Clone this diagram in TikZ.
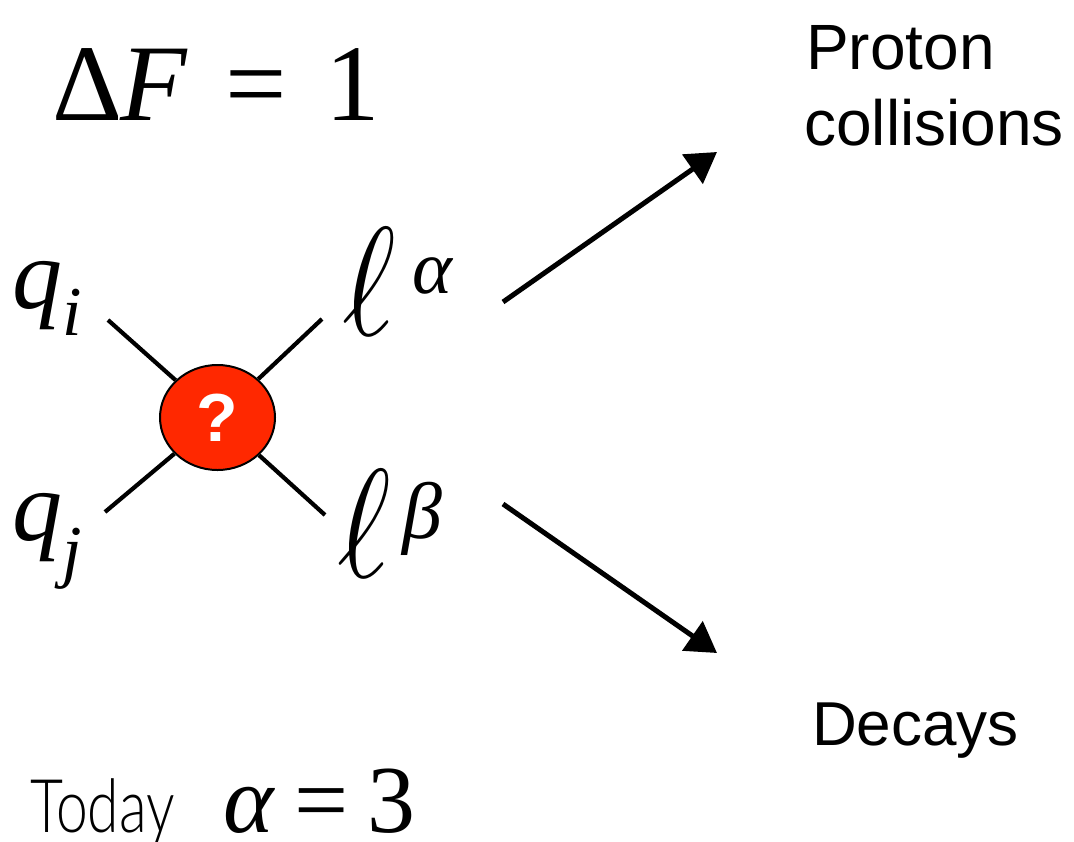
\RequirePackage{fix-cm}
\documentclass[tikz,border=0pt]{standalone}
\usepackage{fontspec}
\setmainfont{Liberation Serif}
\newfontfamily\hel{Liberation Sans}
\newfontfamily\gill{Lato Light}
\usetikzlibrary{arrows.meta,shapes.geometric}
\definecolor{vred}{RGB}{255,40,0}
\tikzset{
  leg/.style={line width=4.2pt},
  arr/.style={line width=5pt,-{Triangle[length=30pt,width=35pt]}},
  lbl/.style={inner sep=0pt,anchor=base west},
}
\newcommand{\fs}[1]{\fontsize{#1}{#1}\selectfont}
\newcommand{\bigell}{\scalebox{1.3}[1.55]{$\ell$}}
\begin{document}
\begin{tikzpicture}[x=1pt,y=-1pt]
\useasboundingbox (0,0) rectangle (1074,841);
\node[lbl,font=\fs{109}] (df) at (52,120) {Δ\kern-0.02em\textit{F}\kern0.35em=\kern0.35em1};
\node[lbl,font=\hel\fs{64}] (p1) at (806,69) {Proton};
\node[lbl,font=\hel\fs{64}] (p2) at (804,145) {collisions};
\node[lbl,font=\hel\fs{62}] (dec) at (812,745) {Decays};
\node[lbl,font=\gill\fs{74}] (today) at (30,832) {\scalebox{0.77}[1]{Today}};
\node[lbl,font=\fs{96}] (al) at (223,832) {\textit{α}\kern0.2em=\kern0.2em3};
\node[lbl,font=\fs{100}] (qi) at (12,308) {\textit{q}\raisebox{-27pt}{\fs{70}\textit{i}}};
\node[lbl,font=\fs{100}] (qj) at (12,540) {\textit{q}\raisebox{-34pt}{\fs{70}\textit{j}}};
\node[lbl,font=\fs{100}] (la) at (342,335) {\bigell\kern17pt\raisebox{42pt}{\fs{76}\textit{α}}};
\node[lbl,font=\fs{100}] (lb) at (337,577) {\bigell\kern12pt\raisebox{39pt}{\fs{80}\textit{β}}};
\node[ellipse,draw,line width=2pt,fill=vred,minimum width=115pt,minimum height=105pt,inner sep=0pt,text=white,font=\hel\bfseries\fs{68}] (vx) at (217.5,417.5) {?};
\coordinate (a1) at (108,320);
\coordinate (a2) at (322,319);
\coordinate (a3) at (105,512);
\coordinate (a4) at (325,515);
\draw[leg] (a1) -- (vx);
\draw[leg] (a2) -- (vx);
\draw[leg] (a3) -- (vx);
\draw[leg] (a4) -- (vx);
\coordinate (u0) at (503,302);
\coordinate (u1) at (717,152);
\coordinate (d0) at (503,504);
\coordinate (d1) at (717,653);
\draw[arr] (u0) -- (u1);
\draw[arr] (d0) -- (d1);
\end{tikzpicture}
\end{document}
